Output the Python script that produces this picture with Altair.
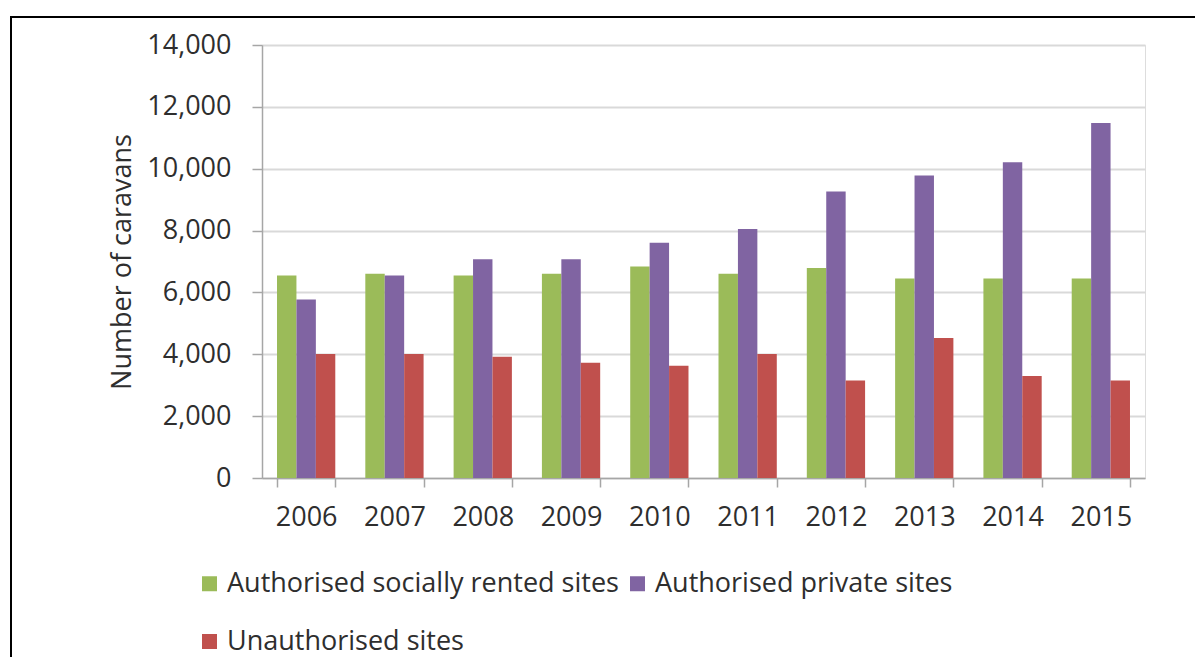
import altair as alt
import pandas as pd

years = ["2006", "2007", "2008", "2009", "2010", "2011", "2012", "2013", "2014", "2015"]
series = ["Authorised socially rented sites", "Authorised private sites", "Unauthorised sites"]
social = [6550, 6600, 6550, 6600, 6840, 6600, 6790, 6450, 6450, 6450]
private = [5770, 6550, 7070, 7070, 7610, 8050, 9260, 9780, 10210, 11480]
unauth = [4010, 4010, 3920, 3730, 3630, 4010, 3150, 4530, 3300, 3150]
colors = ["#9BBB59", "#8064A2", "#C0504D"]
y_ticks = [0, 2000, 4000, 6000, 8000, 10000, 12000, 14000]

rows = []
for i, y in enumerate(years):
    for s, vals in zip(series, [social, private, unauth]):
        rows.append({"year": y, "series": s, "value": vals[i]})
df = pd.DataFrame(rows)

FONT = "Open Sans"
TXT = "#2e2e2e"

bars = alt.Chart(df).mark_bar().encode(
    x=alt.X("year:N", sort=years,
            scale=alt.Scale(paddingInner=0.34, paddingOuter=0.17),
            axis=alt.Axis(title=None, labelAngle=0, labelFontSize=27, labelFont=FONT,
                          labelColor=TXT, labelPadding=17, tickBand="extent",
                          tickSize=9, tickColor="#a6a6a6", domainColor="#a6a6a6",
                          domainWidth=1.5, tickWidth=1.5)),
    xOffset=alt.XOffset("series:N", sort=series, scale=alt.Scale(paddingInner=0, paddingOuter=0)),
    y=alt.Y("value:Q", scale=alt.Scale(domain=[0, 14000], nice=False),
            axis=alt.Axis(title="Number of caravans", values=y_ticks, format=",.0f",
                          labelFontSize=27, labelFont=FONT, labelColor=TXT, labelPadding=21,
                          titleFontSize=27, titleFont=FONT, titleColor=TXT, titleFontWeight="normal",
                          titlePadding=10, tickSize=10, tickColor="#a6a6a6",
                          domainColor="#a6a6a6", domainWidth=1.5, tickWidth=1.5,
                          gridColor="#d9d9d9", gridWidth=2)),
    color=alt.Color("series:N", sort=series,
                    scale=alt.Scale(domain=series, range=colors),
                    legend=alt.Legend(title=None, orient="none", legendX=-66, legendY=525,
                                      columns=2, direction="horizontal",
                                      symbolType="square", symbolSize=225, symbolStrokeWidth=0,
                                      labelFontSize=27, labelFont=FONT, labelColor=TXT,
                                      labelOffset=4, columnPadding=5, rowPadding=30,
                                      labelLimit=600)),
)

frame = alt.Chart(alt.Data(values=[{}])).mark_rect(
    filled=False, stroke="black", strokeWidth=2
).encode(
    x=alt.value(-251), x2=alt.value(1400), y=alt.value(-28), y2=alt.value(900)
)

chart = alt.layer(frame, bars).properties(
    width=883, height=433,
    padding={"left": 254, "top": 37, "right": 50, "bottom": 179},
    autosize=alt.AutoSizeParams(type="none"),
).configure_view(stroke=None).configure(background="white")

chart.save("out.html", embed_options={"renderer": "svg", "actions": False})
